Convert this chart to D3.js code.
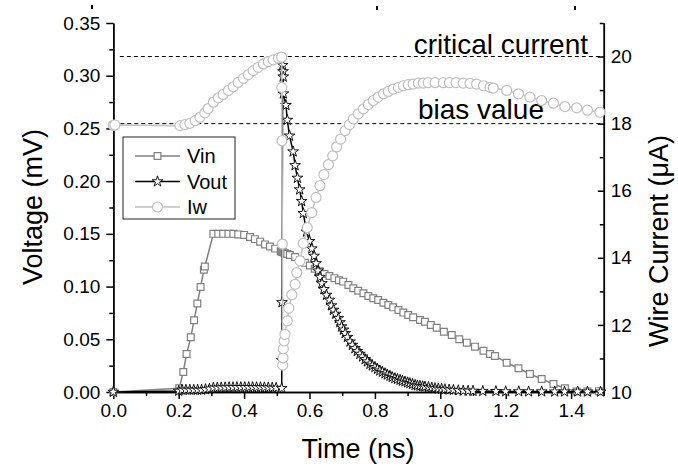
<!DOCTYPE html>
<html>
<head>
<meta charset="utf-8">
<script src="https://cdn.jsdelivr.net/npm/d3@7"></script>
<style>
  body { margin: 0; background: #fff; }
  svg { font-family: "Liberation Sans", Arial, sans-serif; }
  .axis path, .axis line { stroke: #000; stroke-width: 1.5; }
  .axis text { font-size: 19px; fill: #000; }
</style>
</head>
<body>
<svg id="chart" width="678" height="468"></svg>
<script>
// Vin (mV) vs time (ns)
const vin = [[0,0],[0.2015,0.0035],[0.214,0.019],[0.224,0.036],[0.237,0.052],[0.247,0.068],[0.257,0.084],[0.267,0.0996],[0.277,0.116],[0.280,0.119],[0.306,0.150],[0.321,0.150],[0.336,0.150],[0.352,0.150],[0.367,0.150],[0.382,0.1495],[0.400,0.149],[0.418,0.147],[0.433,0.145],[0.449,0.1426],[0.464,0.140],[0.479,0.138],[0.495,0.136],[0.512,0.1335],[0.515,0.133],[0.518,0.1328],[0.521,0.1322],[0.525,0.1316],[0.532,0.131],[0.540,0.130],[0.556,0.128],[0.571,0.125],[0.586,0.1225],[0.601,0.120],[0.616,0.117],[0.631,0.1145],[0.646,0.112],[0.661,0.110],[0.676,0.108],[0.690,0.106],[0.703,0.1047],[0.719,0.1015],[0.734,0.0984],[0.749,0.0961],[0.765,0.0936],[0.780,0.0911],[0.795,0.0889],[0.810,0.0873],[0.826,0.0847],[0.841,0.0825],[0.856,0.0803],[0.872,0.0778],[0.887,0.0753],[0.902,0.0731],[0.917,0.0709],[0.938,0.0683],[0.953,0.0667],[0.971,0.0636],[0.989,0.0610],[1.011,0.0572],[1.035,0.0541],[1.058,0.050],[1.081,0.0468],[1.106,0.043],[1.132,0.0392],[1.152,0.036],[1.167,0.0342],[1.203,0.0278],[1.239,0.0225],[1.274,0.0171],[1.310,0.0123],[1.346,0.0076],[1.381,0.0035],[1.417,0.0005],[1.45,0.0005],[1.485,0.0008]];

// Vout (mV) vs time (ns)
const vout = [[0,0],[0.2,0.001],[0.21,0.002],[0.222,0.002],[0.234,0.002],[0.246,0.002],[0.258,0.002],[0.27,0.002],[0.282,0.0025],[0.294,0.003],[0.306,0.004],[0.318,0.004],[0.33,0.0042],[0.342,0.0043],[0.354,0.0044],[0.366,0.0044],[0.378,0.0045],[0.39,0.0045],[0.402,0.0045],[0.414,0.0045],[0.426,0.0045],[0.438,0.0044],[0.45,0.0044],[0.462,0.0043],[0.474,0.0042],[0.486,0.004],[0.498,0.0038],[0.515,0.0035],[0.5155,0.03],[0.516,0.085],[0.518,0.31],[0.519,0.304],[0.5195,0.299],[0.52,0.283],[0.528,0.272],[0.532,0.258],[0.539,0.243],[0.550,0.228],[0.556,0.215],[0.563,0.203],[0.570,0.192],[0.576,0.181],[0.581,0.1695],[0.591,0.152],[0.600,0.143],[0.607,0.136],[0.614,0.129],[0.620,0.122],[0.626,0.115],[0.632,0.109],[0.638,0.103],[0.644,0.0974],[0.652,0.092],[0.661,0.0873],[0.667,0.082],[0.673,0.0778],[0.680,0.074],[0.688,0.070],[0.693,0.066],[0.698,0.062],[0.704,0.059],[0.709,0.0557],[0.716,0.052],[0.724,0.0477],[0.731,0.0445],[0.739,0.0414],[0.746,0.0387],[0.754,0.036],[0.762,0.0335],[0.770,0.031],[0.777,0.0288],[0.785,0.0266],[0.792,0.025],[0.800,0.0234],[0.808,0.0218],[0.815,0.0202],[0.823,0.019],[0.831,0.0177],[0.838,0.0164],[0.846,0.0152],[0.853,0.0141],[0.861,0.013],[0.869,0.0122],[0.877,0.0114],[0.884,0.0106],[0.892,0.0098],[0.900,0.009],[0.907,0.0083],[0.915,0.0075],[0.923,0.0066],[0.930,0.0061],[0.938,0.0057],[0.946,0.0053],[0.953,0.005],[0.964,0.0045],[0.974,0.004],[0.984,0.0035],[0.994,0.0031],[1.004,0.0028],[1.014,0.0025],[1.027,0.0022],[1.04,0.0019],[1.055,0.0015],[1.07,0.0012],[1.085,0.0011],[1.10,0.001],[1.13,0.0008],[1.17,0.0007],[1.20,0.0005],[1.24,0.0005],[1.27,0.0004],[1.31,0.0004],[1.35,0.0003],[1.38,0.0003],[1.42,0.0003],[1.45,0.0002],[1.49,0.0002]];

// Iw (uA) vs time (ns), right axis
const iw = [[0,17.95],[0.005,17.96],[0.204,17.94],[0.219,17.97],[0.234,18.01],[0.25,18.09],[0.265,18.19],[0.28,18.32],[0.29,18.45],[0.306,18.64],[0.321,18.77],[0.336,18.87],[0.352,18.99],[0.367,19.10],[0.382,19.23],[0.398,19.35],[0.413,19.46],[0.428,19.58],[0.443,19.68],[0.459,19.78],[0.474,19.85],[0.489,19.90],[0.505,19.95],[0.515,19.98],[0.5155,19.08],[0.516,17.49],[0.517,14.41],[0.518,10.8],[0.519,11.02],[0.52,11.29],[0.5225,11.52],[0.525,11.72],[0.532,12.12],[0.537,12.5],[0.546,12.9],[0.556,13.21],[0.561,13.56],[0.571,13.91],[0.581,14.43],[0.593,14.90],[0.607,15.35],[0.62,15.8],[0.632,16.15],[0.644,16.48],[0.658,16.78],[0.671,17.04],[0.683,17.31],[0.695,17.54],[0.709,17.79],[0.722,17.97],[0.734,18.14],[0.749,18.29],[0.765,18.44],[0.780,18.57],[0.795,18.69],[0.810,18.79],[0.826,18.89],[0.841,18.96],[0.856,19.03],[0.872,19.08],[0.887,19.13],[0.902,19.16],[0.917,19.18],[0.933,19.21],[0.948,19.21],[0.963,19.22],[0.984,19.22],[1.009,19.22],[1.028,19.22],[1.048,19.22],[1.07,19.21],[1.091,19.2],[1.111,19.18],[1.132,19.13],[1.152,19.08],[1.162,19.06],[1.203,18.99],[1.239,18.89],[1.274,18.79],[1.31,18.69],[1.346,18.61],[1.381,18.51],[1.417,18.47],[1.45,18.4],[1.488,18.34]];

// reference levels on the current axis
const levels = [{ name: "critical current", value: 20 }, { name: "bias value", value: 18 }];

const xTicks = [0, 0.2, 0.4, 0.6, 0.8, 1.0, 1.2, 1.4];
const xMinor = [0.1, 0.3, 0.5, 0.7, 0.9, 1.1, 1.3, 1.5];
const yLeftTicks = [0, 0.05, 0.10, 0.15, 0.20, 0.25, 0.30, 0.35];
const yLeftMinor = [0.025, 0.075, 0.125, 0.175, 0.225, 0.275, 0.325];
const yRightTicks = [10, 12, 14, 16, 18, 20];
const yRightMinor = [11, 13, 15, 17, 19, 21];

const svg = d3.select("#chart");
const plotLeft = 113.3, plotRight = 603.8, plotTop = 23, plotBottom = 392;

let x = d3.scaleLinear().domain([0, 1.5]).range([plotLeft, plotRight]);
let yL = d3.scaleLinear().domain([0, 0.35]).range([plotBottom, plotTop]);
let yR = d3.scaleLinear().domain([10, 21]).range([plotBottom, plotTop]);

// axes (minor first, then major with labels)
svg.append("g").attr("class", "axis")
	.attr("transform", "translate(0," + plotBottom + ")")
	.call(d3.axisBottom(x).tickValues(xMinor).tickSize(4).tickSizeOuter(0).tickFormat(""));
svg.append("g").attr("class", "axis")
	.attr("transform", "translate(0," + plotBottom + ")")
	.call(d3.axisBottom(x).tickValues(xTicks).tickSize(7).tickSizeOuter(0).tickPadding(5).tickFormat(d3.format(".1f")));

svg.append("g").attr("class", "axis")
	.attr("transform", "translate(" + plotLeft + ",0)")
	.call(d3.axisLeft(yL).tickValues(yLeftMinor).tickSize(4).tickSizeOuter(0).tickFormat(""));
svg.append("g").attr("class", "axis")
	.attr("transform", "translate(" + plotLeft + ",0)")
	.call(d3.axisLeft(yL).tickValues(yLeftTicks).tickSize(7).tickSizeOuter(0).tickPadding(6).tickFormat(d3.format(".2f")));

svg.append("g").attr("class", "axis")
	.attr("transform", "translate(" + plotRight + ",0)")
	.call(d3.axisRight(yR).tickValues(yRightMinor).tickSize(-4).tickSizeOuter(0).tickFormat(""));
svg.append("g").attr("class", "axis")
	.attr("transform", "translate(" + plotRight + ",0)")
	.call(d3.axisRight(yR).tickValues(yRightTicks).tickSize(-6).tickSizeOuter(0).tickPadding(7).tickFormat(d3.format("d")));

// dashed reference lines + labels
svg.selectAll(".level").data(levels).enter().append("line")
	.attr("x1", (d, i) => i == 0 ? x(0.02) : plotLeft).attr("x2", plotRight)
	.attr("y1", d => yR(d.value)).attr("y2", d => yR(d.value))
	.attr("stroke", "#000").attr("stroke-width", 1).attr("stroke-dasharray", "4,3");

svg.append("text").attr("x", 588).attr("y", yR(20) - 3).attr("text-anchor", "end")
	.style("font-size", "28px").text(levels[0].name);
svg.append("text").attr("x", 544).attr("y", yR(18) - 5).attr("text-anchor", "end")
	.style("font-size", "28px").text(levels[1].name);

// series
const series = [
	{ name: "Vin", data: vin, y: yL, color: "#808080", shape: "square" },
	{ name: "Vout", data: vout, y: yL, color: "#000000", shape: "star" },
	{ name: "Iw", data: iw, y: yR, color: "#c0c0c0", shape: "circle" }
];

function drawMarker(g, shape, color) {
	if (shape == "circle") {
		return g.append("circle").attr("r", 5).attr("fill", "#fff").attr("stroke", color).attr("stroke-width", 1.2);
	}
	let sym = shape == "square" ? d3.symbolSquare : d3.symbolStar;
	let size = shape == "square" ? 46 : 36;
	return g.append("path").attr("d", d3.symbol().type(sym).size(size)())
		.attr("fill", "#fff").attr("stroke", color).attr("stroke-width", shape == "star" ? 0.9 : 1.2);
}

series.forEach(function(s) {
	let line = d3.line().x(d => x(d[0])).y(d => s.y(d[1]));
	svg.append("path").datum(s.data)
		.attr("fill", "none").attr("stroke", s.color).attr("stroke-width", 1.5)
		.attr("d", line);
	let g = svg.append("g");
	s.data.forEach(function(d) {
		let m = g.append("g").attr("transform", "translate(" + x(d[0]) + "," + s.y(d[1]) + ")");
		drawMarker(m, s.shape, s.color);
	});
});

// legend
let legend = svg.append("g");
legend.append("rect").attr("x", 123).attr("y", 137).attr("width", 112).attr("height", 82)
	.attr("fill", "#fff").attr("stroke", "#222").attr("stroke-width", 1);
series.forEach(function(s, i) {
	let ly = 156 + i * 25.5;
	legend.append("line").attr("x1", 135).attr("x2", 180).attr("y1", ly).attr("y2", ly)
		.attr("stroke", s.color).attr("stroke-width", 1.5);
	let m = legend.append("g").attr("transform", "translate(157.5," + ly + ")");
	drawMarker(m, s.shape, s.color);
	legend.append("text").attr("x", 187).attr("y", ly + 7).style("font-size", "20px").text(s.name);
});

// axis titles
svg.append("text").attr("x", 358).attr("y", 458).attr("text-anchor", "middle")
	.style("font-size", "27px").text("Time (ns)");
svg.append("text").attr("transform", "translate(42,207) rotate(-90)").attr("text-anchor", "middle")
	.style("font-size", "27px").text("Voltage (mV)");
svg.append("text").attr("transform", "translate(668,241) rotate(-90)").attr("text-anchor", "middle")
	.style("font-size", "27px").text("Wire Current (\u03bcA)");

// cut-off marks at the very top
[[91, 5], [376, 6], [574, 6]].forEach(function(p) {
	svg.append("rect").attr("x", p[0]).attr("y", p[1]).attr("width", 2).attr("height", 4).attr("fill", "#000");
});
</script>
</body>
</html>
